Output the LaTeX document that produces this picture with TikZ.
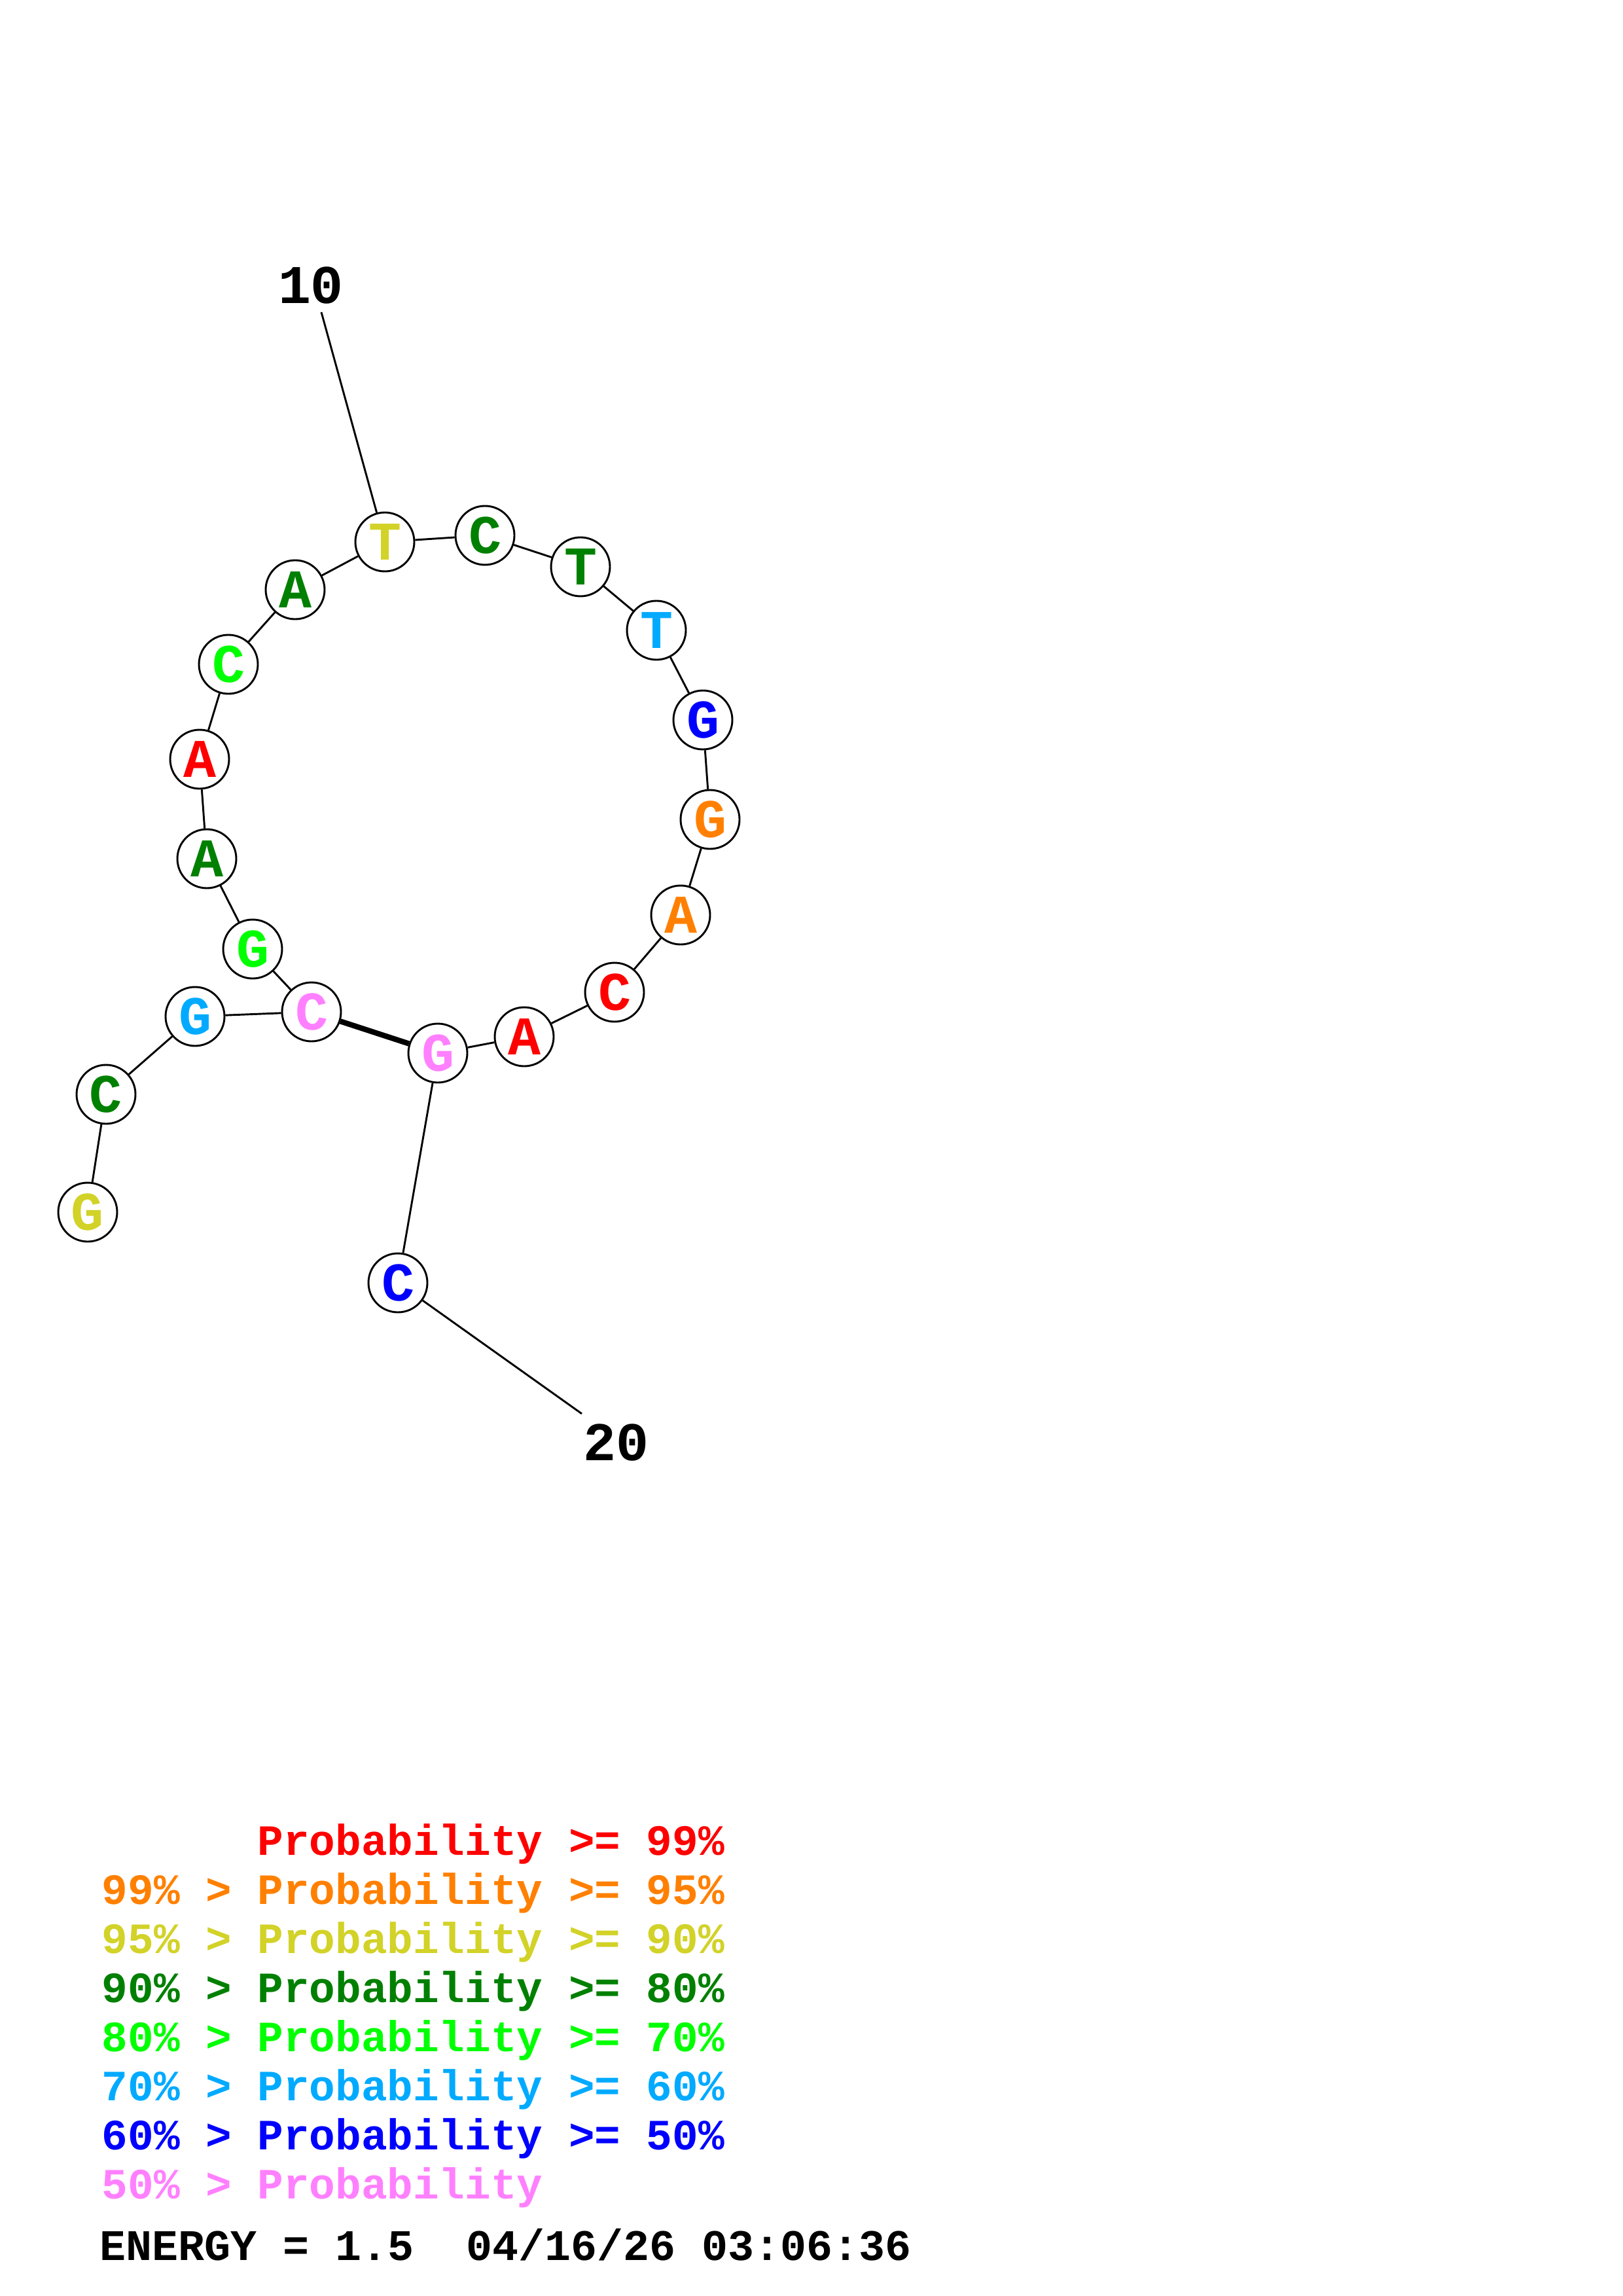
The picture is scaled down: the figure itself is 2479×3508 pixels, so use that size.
\documentclass[tikz,border=0pt]{standalone}
\usepackage{fontspec}
\setmonofont{Liberation Mono}
\definecolor{cRed}{RGB}{255,0,0}
\definecolor{cOrange}{RGB}{255,128,0}
\definecolor{cYellow}{RGB}{210,210,40}
\definecolor{cDkGreen}{RGB}{0,128,0}
\definecolor{cLime}{RGB}{0,255,0}
\definecolor{cCyan}{RGB}{0,170,255}
\definecolor{cBlue}{RGB}{0,0,255}
\definecolor{cPink}{RGB}{255,128,255}
\begin{document}
\begin{tikzpicture}[x=0.24pt,y=-0.24pt,
  base/.style={circle,draw=black,line width=0.7pt,fill=white,minimum size=21.6pt,inner sep=0pt,
    font=\ttfamily\bfseries\fontsize{20}{20}\selectfont},
  bond/.style={line width=0.7pt},
  pairbond/.style={line width=2pt},
  numlabel/.style={inner sep=0pt,font=\ttfamily\bfseries\fontsize{20}{20}\selectfont},
  leg/.style={anchor=base west,inner sep=0pt,font=\ttfamily\bfseries\fontsize{15.85}{16}\selectfont},
  energy/.style={anchor=base west,inner sep=0pt,font=\ttfamily\bfseries\fontsize{16}{16}\selectfont}]
\useasboundingbox[fill=white] (0,0) rectangle (2479,3508);
% bases
\node[base,text=cYellow]  (b1)  at (134,1852) {G};
\node[base,text=cDkGreen] (b2)  at (162,1672) {C};
\node[base,text=cCyan]    (b3)  at (298,1553) {G};
\node[base,text=cPink]    (b4)  at (476,1546) {C};
\node[base,text=cLime]    (b5)  at (386,1450) {G};
\node[base,text=cDkGreen] (b6)  at (316,1312) {A};
\node[base,text=cRed]     (b7)  at (305,1160) {A};
\node[base,text=cLime]    (b8)  at (349,1015) {C};
\node[base,text=cDkGreen] (b9)  at (451,901) {A};
\node[base,text=cYellow]  (b10) at (588,828) {T};
\node[base,text=cDkGreen] (b11) at (741,818) {C};
\node[base,text=cDkGreen] (b12) at (887,866) {T};
\node[base,text=cCyan]    (b13) at (1003,963) {T};
\node[base,text=cBlue]    (b14) at (1074,1100) {G};
\node[base,text=cOrange]  (b15) at (1085,1252) {G};
\node[base,text=cOrange]  (b16) at (1040,1398) {A};
\node[base,text=cRed]     (b17) at (939,1516) {C};
\node[base,text=cRed]     (b18) at (801,1584) {A};
\node[base,text=cPink]    (b19) at (669,1609) {G};
\node[base,text=cBlue]    (b20) at (608,1960) {C};
% labels
\node[numlabel] (l10) at (475,436) {10};
\node[numlabel] (l20) at (941,2204) {20};
\coordinate (e10) at (491,477);
\coordinate (e20) at (889,2160);
% backbone
\draw[bond] (b1)--(b2) (b2)--(b3) (b3)--(b4) (b4)--(b5) (b5)--(b6) (b6)--(b7)
  (b7)--(b8) (b8)--(b9) (b9)--(b10) (b10)--(b11) (b11)--(b12) (b12)--(b13)
  (b13)--(b14) (b14)--(b15) (b15)--(b16) (b16)--(b17) (b17)--(b18) (b18)--(b19)
  (b19)--(b20);
\draw[pairbond] (b4)--(b19);
\draw[bond] (b10)--(e10);
\draw[bond] (b20)--(e20);
% legend
\node[leg,text=cRed]     (g1) at (155,2834) {\phantom{99\% > }Probability >= 99\%};
\node[leg,text=cOrange]  (g2) at (155,2909) {99\% > Probability >= 95\%};
\node[leg,text=cYellow]  (g3) at (155,2984) {95\% > Probability >= 90\%};
\node[leg,text=cDkGreen] (g4) at (155,3059) {90\% > Probability >= 80\%};
\node[leg,text=cLime]    (g5) at (155,3134) {80\% > Probability >= 70\%};
\node[leg,text=cCyan]    (g6) at (155,3209) {70\% > Probability >= 60\%};
\node[leg,text=cBlue]    (g7) at (155,3284) {60\% > Probability >= 50\%};
\node[leg,text=cPink]    (g8) at (155,3359) {50\% > Probability};
\node[energy,text=black] (en) at (152,3453) {ENERGY = 1.5\ \ 04/16/26 03:06:36};
\end{tikzpicture}
\end{document}
